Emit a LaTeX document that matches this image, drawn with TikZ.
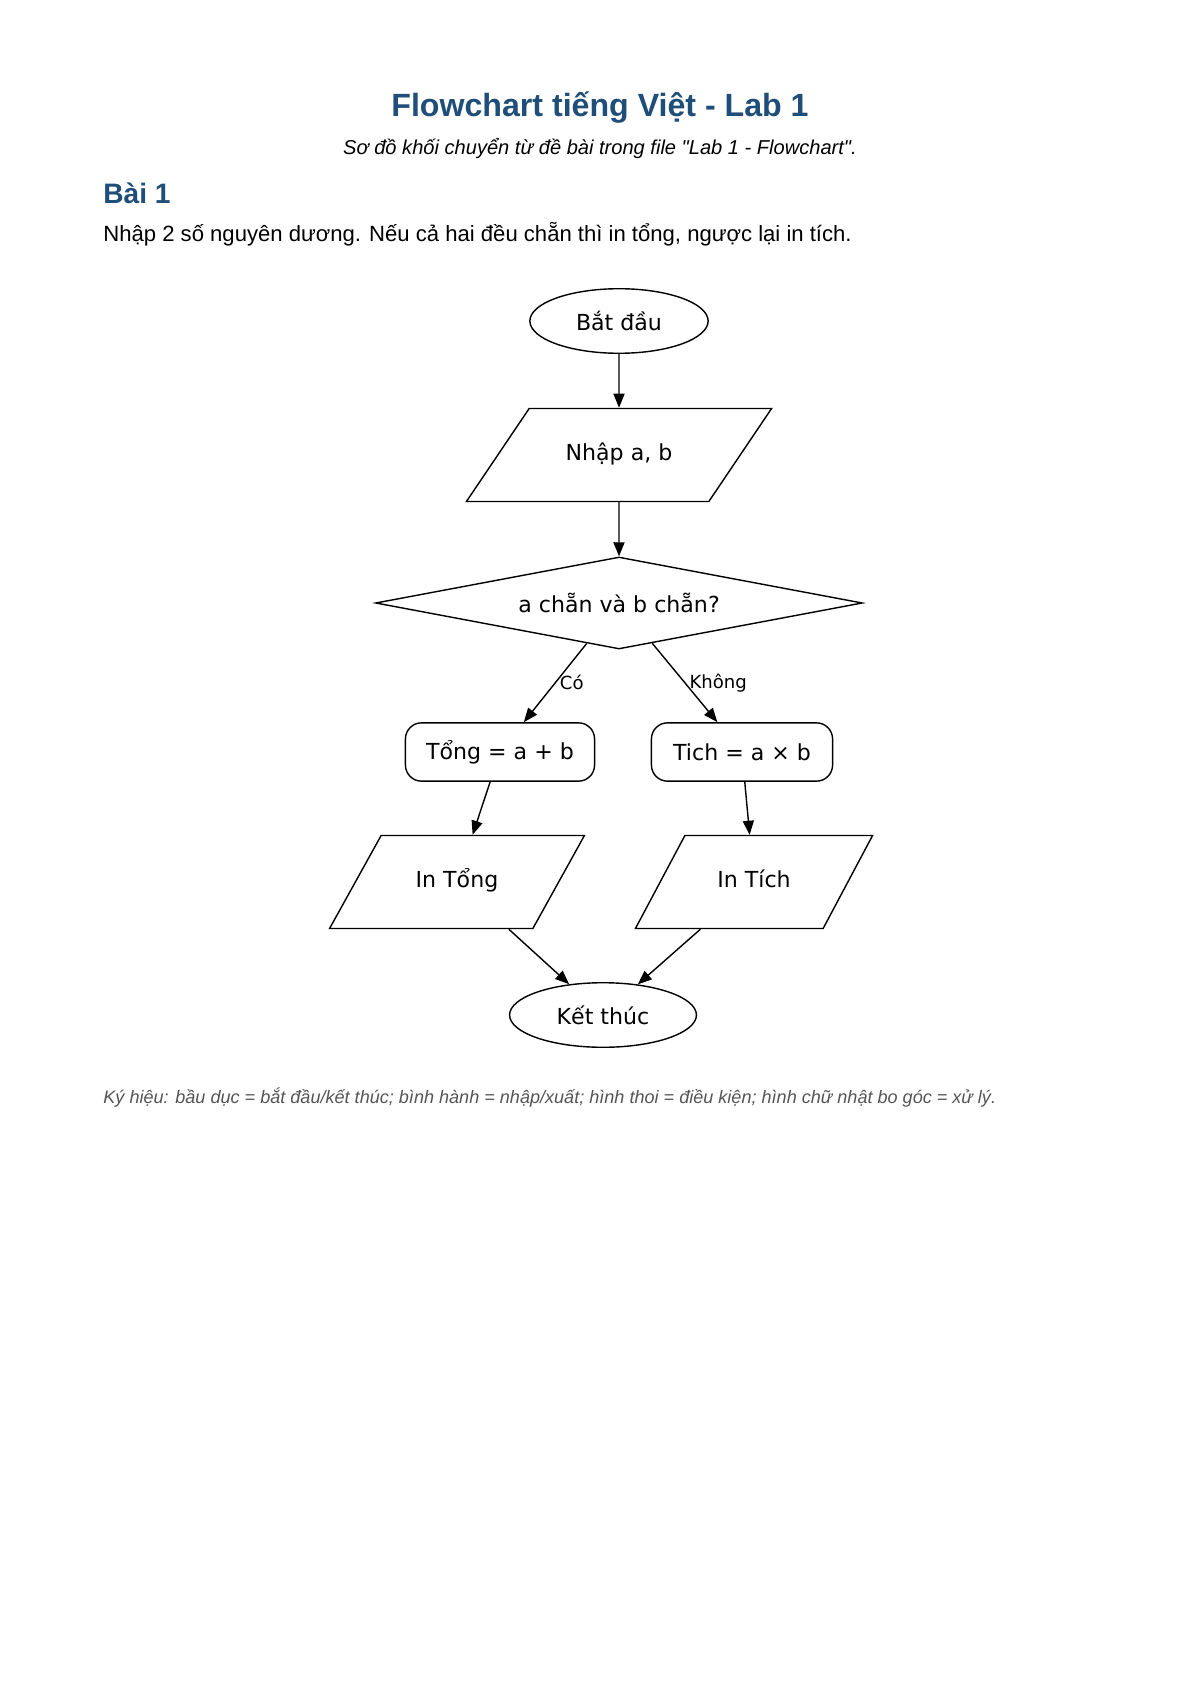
\documentclass[tikz,border=0pt]{standalone}
\usepackage{fontspec}
\setmainfont{Liberation Sans}
\newfontfamily\flowfont{DejaVu Sans}
\usetikzlibrary{shapes.geometric, arrows.meta}
\definecolor{titleblue}{RGB}{31, 78, 121}
\definecolor{notegray}{RGB}{85, 85, 85}

\begin{document}
\begin{tikzpicture}[
        x=0.0175cm, y=-0.0175cm,
        pagetext/.style={inner sep=0pt},
        terminal/.style={ellipse, draw, line width=0.7pt, minimum height=1.13cm, font=\flowfont\fontsize{11}{13}\selectfont},
        io/.style={trapezium, trapezium stretches body, draw, line width=0.7pt, text height=8pt, text depth=2.5pt, inner ysep=17.9pt, font=\flowfont\fontsize{11}{13}\selectfont},
        decision/.style={diamond, aspect=5.3, draw, line width=0.7pt, minimum width=8.52cm, minimum height=1.61cm, inner sep=0pt, font=\flowfont\fontsize{11}{13}\selectfont},
        process/.style={rectangle, rounded corners=8pt, draw, line width=0.7pt, minimum height=1.02cm, font=\flowfont\fontsize{11}{13}\selectfont},
        arrow/.style={-{Triangle[length=7pt, width=5.5pt]}, line width=0.7pt},
        branch/.style={right, inner sep=2pt, font=\flowfont\fontsize{9}{11}\selectfont}
    ]

    \path[fill=white] (0, 0) rectangle (1200, 1696);

    % Page text
    \node[pagetext, anchor=base, text=titleblue, font=\bfseries\fontsize{16}{19}\selectfont] (title) at (600, 117) {Flowchart tiếng Việt - Lab 1};
    \node[pagetext, anchor=base, font=\itshape\fontsize{10}{12}\selectfont] (subtitle) at (600, 155) {Sơ đồ khối chuyển từ đề bài trong file \textquotedbl Lab 1 - Flowchart\textquotedbl.};
    \node[pagetext, anchor=base west, text=titleblue, font=\bfseries\fontsize{14}{17}\selectfont] (heading) at (103, 204) {Bài 1};
    \node[pagetext, anchor=base west, font=\fontsize{11}{13}\selectfont] (task) at (103, 242) {Nhập 2 số nguyên dương. Nếu cả hai đều chẵn thì in tổng, ngược lại in tích.};

    % Flowchart nodes
    \node[terminal, minimum width=3.12cm] (start) at (619, 321) {Bắt đầu};
    \node[io, minimum width=5.34cm, trapezium left angle=56, trapezium right angle=124] (input) at (619, 455) {Nhập a, b};
    \node[decision] (check) at (619, 603) {a chẵn và b chẵn?};
    \node[process, minimum width=3.31cm] (sum) at (500, 752) {Tổng = a + b};
    \node[process, minimum width=3.17cm] (prod) at (742, 752) {Tich = a × b};
    \node[io, minimum width=4.46cm, trapezium left angle=61, trapezium right angle=119] (outsum) at (457, 882) {In Tổng};
    \node[io, minimum width=4.15cm, trapezium left angle=62, trapezium right angle=118] (outprod) at (754, 882) {In Tích};
    \node[terminal, minimum width=3.27cm] (stop) at (603, 1015) {Kết thúc};

    % Connectors
    \draw[arrow] (start) -- (input);
    \draw[arrow] (input) -- (check);
    \draw[arrow] (check) -- node[branch, pos=0.5] {Có} (sum);
    \draw[arrow] (check) -- node[branch, pos=0.5] {Không} (prod);
    \draw[arrow] (sum) -- (outsum);
    \draw[arrow] (prod) -- (outprod);
    \draw[arrow] (outsum) -- (stop);
    \draw[arrow] (outprod) -- (stop);

    % Legend
    \node[pagetext, anchor=base west, text=notegray, font=\itshape\fontsize{9}{11}\selectfont] (legend) at (103, 1103) {Ký hiệu: bầu dục = bắt đầu/kết thúc; bình hành = nhập/xuất; hình thoi = điều kiện; hình chữ nhật bo góc = xử lý.};

\end{tikzpicture}
\end{document}
